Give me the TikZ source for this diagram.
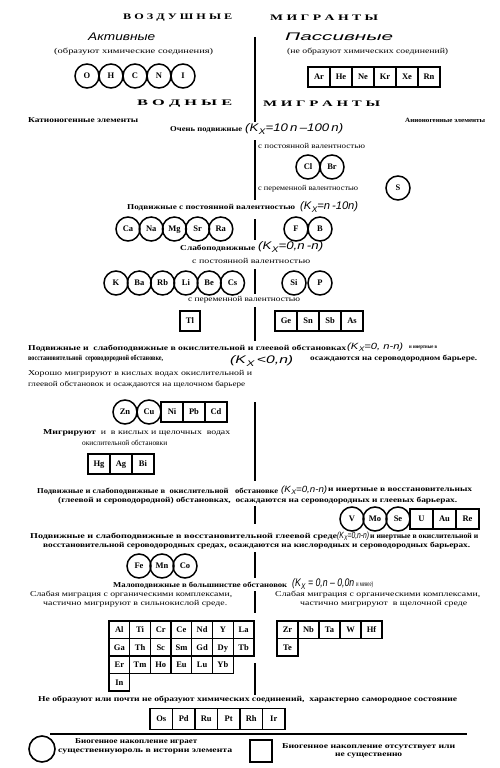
\documentclass[tikz,border=0pt]{standalone}
\usepackage{fontspec}
\usepackage{graphicx}
\setmainfont{Liberation Serif}
\newfontfamily\isf{Liberation Sans}
\newcommand\tx[2]{\resizebox{#1pt}{\height}{#2}}
\newcommand\kx{K\kern0.04em\raisebox{-0.4ex}{\scalebox{0.75}{X}}}
\begin{document}
\begin{tikzpicture}[x=1pt,y=-1pt,
  bt/.style={anchor=west,inner sep=0pt,font=\fontsize{7.5}{9}\selectfont\bfseries},
  rt/.style={anchor=west,inner sep=0pt,font=\fontsize{7.5}{9}\selectfont},
  ttl/.style={anchor=west,inner sep=0pt,font=\fontsize{8.5}{9}\selectfont\bfseries},
  ft/.style={anchor=west,inner sep=0pt,font=\fontsize{11}{12}\selectfont\isf\itshape},
  fs/.style={anchor=west,inner sep=0pt,font=\fontsize{9}{10}\selectfont\isf\itshape},
  el/.style={circle,draw,line width=1.5pt,minimum size=24pt,inner sep=0pt,text height=1.45ex,text depth=0.25ex,font=\fontsize{8.5}{9}\selectfont\bfseries},
  bx/.style={rectangle,draw,line width=1.3pt,minimum width=22pt,minimum height=20pt,inner sep=0pt,text height=1.45ex,text depth=0.25ex,font=\fontsize{8.5}{9}\selectfont\bfseries},
  gx/.style={bx,minimum width=20.7pt,minimum height=17.5pt},
  dv/.style={line width=1.2pt}]
\fill[white] (0,0) rectangle (500,768);
\useasboundingbox (0,0) rectangle (500,768);

% ---------- air migrants ----------
\node[ttl] (t1) at (123,18) {\tx{109}{В О З Д У Ш Н Ы Е}};
\node[ttl] (t2) at (270,18) {\tx{108}{М И Г Р А Н Т Ы}};
\node[ft] (t3) at (88,37) {\tx{67}{Активные}};
\node[ft] (t4) at (285,37) {\tx{108}{Пассивные}};
\node[rt] (t5) at (54,52) {\tx{159}{(образуют химические соединения)}};
\node[rt] (t6) at (287,52) {\tx{161}{(не образуют химических соединений)}};
\foreach \n [count=\i from 0] in {O,H,C,N,I}
  \node[el] (e\n) at ({87+24*\i},76) {\n};
\foreach \n [count=\i from 0] in {Ar,He,Ne,Kr,Xe,Rn}
  \node[bx] (e\n) at ({319+22*\i},77) {\n};

% ---------- water migrants ----------
\node[ttl] (t7) at (137,104) {\tx{95}{В О Д Н Ы Е}};
\node[ttl] (t8) at (263,104) {\tx{117}{М И Г Р А Н Т Ы}};
\node[bt] (t9) at (28,120) {\tx{110}{Катионогенные элементы}};
\node[bt,font=\fontsize{6.5}{8}\selectfont\bfseries] (t10) at (405,120) {\tx{80}{Анионогенные элементы}};
\node[bt] (t11) at (170,130) {\tx{72}{Очень подвижные}};
\node[ft] (f1) at (245,129) {\tx{98}{(\kx=10\,n\,–100\,n)}};
\node[rt] (t12) at (258,146) {\tx{107}{с постоянной валентностью}};
\node[el] (eCl) at (308,167) {Cl};
\node[el] (eBr) at (332,167) {Br};
\node[rt] (t13) at (258,189) {\tx{100}{с переменной валентностью}};
\node[el] (eS) at (398,188) {S};

\node[bt] (t14) at (127,208) {\tx{168}{Подвижные с постоянной валентностью}};
\node[ft] (f2) at (300,207) {\tx{58}{(\kx=n\,-10n)}};
\foreach \n [count=\i from 0] in {Ca,Na,Mg,Sr,Ra}
  \node[el] (e\n) at ({128+23.2*\i},229) {\n};
\node[el] (eF) at (296,229) {F};
\node[el] (eB) at (320,229) {B};

\node[bt] (t15) at (180,248) {\tx{75}{Слабоподвижные}};
\node[ft] (f3) at (258,247) {\tx{65}{(\kx=0,n\,-n)}};
\node[rt] (t16) at (192,261) {\tx{118}{с постоянной валентностью}};
\foreach \n [count=\i from 0] in {K,Ba,Rb,Li,Be,Cs}
  \node[el] (e\n) at ({116+23.3*\i},283) {\n};
\node[el] (eSi) at (294,283) {Si};
\node[el] (eP) at (320,283) {P};
\node[rt] (t17) at (188,300) {\tx{112}{с переменной валентностью}};
\node[bx,minimum width=20pt] (eTl) at (190,321) {Tl};
\foreach \n [count=\i from 0] in {Ge,Sn,Sb,As}
  \node[bx] (e\n) at ({286+22*\i},321) {\n};

\node[bt] (t18) at (28,348) {\tx{318}{Подвижные и \ слабоподвижные в окислительной и глеевой обстановках}};
\node[fs] (f4) at (347,347) {\tx{56}{(\kx=0, n-n)}};
\node[bt,font=\fontsize{5.5}{7}\selectfont\bfseries] (t19) at (409,348) {\tx{28}{и инертные в}};
\node[bt] (t20) at (28,359) {\tx{135}{восстановительной \ сероводородной обстановке,}};
\node[ft] (f5) at (230,361) {\tx{63}{(\kx\,<0,n)}};
\node[bt] (t21) at (310,359) {\tx{167}{осаждаются на сероводородном барьере.}};
\node[rt] (t22) at (28,374) {\tx{224}{Хорошо мигрируют в кислых водах окислительной и}};
\node[rt] (t23) at (28,385) {\tx{217}{глеевой обстановок и осаждаются на щелочном барьере}};

\node[el] (eZn) at (125,412) {Zn};
\node[el] (eCu) at (149,412) {Cu};
\foreach \n [count=\i from 0] in {Ni,Pb,Cd}
  \node[bx] (e\n) at ({172+22*\i},412) {\n};
\node[rt] (t24) at (43,433) {\tx{187}{\textbf{Мигрируют} \ и \ в кислых и щелочных \ водах}};
\node[rt] (t25) at (82,443) {\tx{85}{окислительной обстановки}};
\foreach \n [count=\i from 0] in {Hg,Ag,Bi}
  \node[bx] (e\n) at ({99+22*\i},464) {\n};

\node[bt] (t26) at (37,491) {\tx{241}{Подвижные и слабоподвижные в \ окислительной \ \ обстановке}};
\node[fs] (f6) at (281,490) {\tx{46}{(\kx=0,n-n)}};
\node[bt] (t27) at (328,491) {\tx{144}{и инертные в восстановительных}};
\node[bt] (t28) at (58,501) {\tx{399}{(глеевой и сероводородной) обстановках, \ осаждаются на сероводородных и глеевых барьерах.}};
\node[el] (eV) at (352,519) {V};
\node[el] (eMo) at (375,519) {Mo};
\node[el] (eSe) at (398,519) {Se};
\foreach \n [count=\i from 0] in {U,Au,Re}
  \node[bx,minimum width=23pt] (e\n) at ({421.5+23*\i},519) {\n};

\node[bt] (t29) at (30,537) {\tx{307}{Подвижные и слабоподвижные в восстановительной глеевой среде}};
\node[fs] (f7) at (337,536) {\tx{32}{(\kx=0,n-n)}};
\node[bt] (t30) at (370,537) {\tx{108}{и инертные в окислительной и}};
\node[bt] (t31) at (43,546) {\tx{427}{восстановительной сероводородных средах, осаждаются на кислородных и сероводородных барьерах.}};
\foreach \n [count=\i from 0] in {Fe,Mn,Co}
  \node[el] (e\n) at ({139+23*\i},566) {\n};

\node[bt] (t32) at (113,585) {\tx{174}{Малоподвижные в большинстве обстановок}};
\node[ft] (f8) at (292,584) {\tx{62}{(\kx\ = 0,n – 0,0n}};
\node[rt] (t33) at (356,585) {\tx{17}{и менее)}};
\node[rt] (t34) at (30,595) {\tx{202}{Слабая миграция с органическими комплексами,}};
\node[rt] (t35) at (43,604) {\tx{184}{частично мигрируют в сильнокислой среде.}};
\node[rt] (t36) at (275,595) {\tx{205}{Слабая миграция с органическими комплексами,}};
\node[rt] (t37) at (300,604) {\tx{167}{частично мигрируют \ в щелочной среде}};

\foreach \n [count=\i from 0] in {Al,Ti,Cr,Ce,Nd,Y,La}
  \node[gx] (e\n) at ({119.35+20.7*\i},629.75) {\n};
\foreach \n [count=\i from 0] in {Ga,Th,Sc,Sm,Gd,Dy,Tb}
  \node[gx] (e\n) at ({119.35+20.7*\i},647.25) {\n};
\foreach \n [count=\i from 0] in {Er,Tm,Ho,Eu,Lu,Yb}
  \node[gx] (e\n) at ({119.35+20.7*\i},664.75) {\n};
\node[gx] (eIn) at (119.35,682.25) {In};
\foreach \n [count=\i from 0] in {Zr,Nb,Ta,W,Hf}
  \node[gx,minimum width=21pt] (e\n) at ({287.5+21*\i},629.75) {\n};
\node[gx,minimum width=21pt] (eTe) at (287.5,647.25) {Te};

\node[bt] (t38) at (38,700) {\tx{419}{Не образуют или почти не образуют химических соединений, \ характерно самородное состояние}};
\foreach \n [count=\i from 0] in {Os,Pd,Ru,Pt,Rh,Ir}
  \node[bx,minimum width=22.5pt,minimum height=21pt] (e\n) at ({161.25+22.5*\i},719) {\n};

% ---------- divider lines ----------
\foreach \a/\b [count=\k] in {37/122,140/200,219/240,269/294,307/341,402/481,506/524,552/578,591/613,663/695}{
  \coordinate (va\k) at (255,\a);
  \coordinate (vb\k) at (255,\b);
  \draw[dv] (va\k) -- (vb\k);
}
\coordinate (h1) at (50,734);
\coordinate (h2) at (467,734);
\draw[line width=1.1pt] (h1) -- (h2);

% ---------- legend ----------
\node[circle,draw,line width=1.6pt,minimum size=26pt,inner sep=0pt] (lc) at (42,749) {};
\node[bt] (t39) at (75,742) {\tx{122}{Биогенное накопление играет}};
\node[bt] (t40) at (58,752) {\tx{174}{существеннуюроль в истории элемента}};
\node[rectangle,draw,line width=1.4pt,minimum size=22pt,inner sep=0pt] (ls) at (261,751) {};
\node[bt] (t41) at (282,747) {\tx{173}{Биогенное накопление отсутствует или}};
\node[bt] (t42) at (335,756) {\tx{67}{не существенно}};
\end{tikzpicture}
\end{document}
